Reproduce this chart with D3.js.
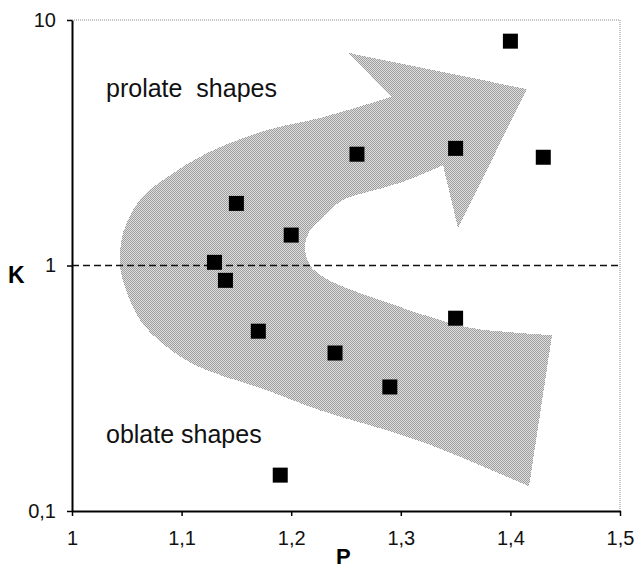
<!DOCTYPE html>
<html>
<head>
<meta charset="utf-8">
<script src="https://cdn.jsdelivr.net/npm/d3@7"></script>
<style>
  body { margin: 0; background: #fff; }
  svg { display: block; font-family: "Liberation Sans", Arial, sans-serif; }
</style>
</head>
<body>
<div id="chart"></div>
<script>
// measured points (P, K)
const pValues = [1.4, 1.43, 1.35, 1.26, 1.15, 1.2, 1.13, 1.14, 1.17, 1.24, 1.35, 1.29, 1.19];
const kValues = [8.2, 2.76, 3.0, 2.84, 1.79, 1.33, 1.03, 0.87, 0.54, 0.44, 0.61, 0.32, 0.14];

const xTicks = [1, 1.1, 1.2, 1.3, 1.4, 1.5];
const yTicks = [0.1, 1, 10];

// outline of the grey arrow, in (P, K) units
const arrowOuter = [[1.417, 0.126], [1.3157, 0.194], [1.2263, 0.257], [1.1779, 0.31],
  [1.1168, 0.385], [1.0867, 0.465], [1.062, 0.60], [1.0465, 0.87], [1.0438, 1.02],
  [1.0465, 1.355], [1.062, 1.85], [1.0867, 2.29], [1.1232, 2.87], [1.1779, 3.56],
  [1.2263, 3.99], [1.2911, 4.86]];
const arrowHead = [[1.2911, 4.86], [1.2527, 7.34], [1.4151, 5.23], [1.3522, 1.42], [1.3385, 2.56]];
const arrowInner = [[1.3385, 2.56], [1.2993, 2.17], [1.2692, 1.99], [1.2473, 1.85],
  [1.2354, 1.68], [1.2263, 1.53], [1.2172, 1.39], [1.2126, 1.19], [1.2172, 1.0],
  [1.229, 0.90], [1.2445, 0.83], [1.2901, 0.70], [1.3358, 0.60], [1.3659, 0.555],
  [1.4115, 0.53], [1.438, 0.52]];

const W = 637, H = 568;
const margin = { top: 20, right: 17, bottom: 57, left: 72 };

const svg = d3.select("#chart")
  .append("svg")
  .attr("width", W)
  .attr("height", H);

const x = d3.scaleLinear().domain([1, 1.5]).range([margin.left, W - margin.right]);
const y = d3.scaleLog().domain([0.1, 10]).range([H - margin.bottom, margin.top]);

const locale = d3.formatLocale({ decimal: ",", thousands: ".", grouping: [3], currency: ["", ""] });
const fmt = locale.format("~g");

// dither texture
const pat = svg.append("defs").append("pattern")
  .attr("id", "dither")
  .attr("width", 2).attr("height", 2)
  .attr("patternUnits", "userSpaceOnUse");
pat.append("rect").attr("width", 2).attr("height", 2).attr("fill", "#dedede");
pat.append("rect").attr("width", 1).attr("height", 1).attr("fill", "#9e9e9e");
pat.append("rect").attr("x", 1).attr("y", 1).attr("width", 1).attr("height", 1).attr("fill", "#9e9e9e");

// frame top / right (dotted grey)
svg.append("path")
  .attr("d", `M${x(1)},${y(10)}H${x(1.5)}V${y(0.1)}`)
  .attr("fill", "none")
  .attr("stroke", "#8a8a8a")
  .attr("stroke-width", 1)
  .attr("stroke-dasharray", "1,1");

// arrow
const smooth = d3.line().x(d => x(d[0])).y(d => y(d[1])).curve(d3.curveCatmullRom.alpha(0.5));
const straight = d3.line().x(d => x(d[0])).y(d => y(d[1]));
const arrowPath = smooth(arrowOuter)
  + straight(arrowHead).replace(/^M/, "L")
  + smooth(arrowInner).replace(/^M/, "L") + "Z";

svg.append("path")
  .attr("d", arrowPath)
  .attr("fill", "url(#dither)")
  .attr("shape-rendering", "crispEdges");

// K = 1 reference line
svg.append("line")
  .attr("x1", x(1)).attr("x2", x(1.5))
  .attr("y1", y(1)).attr("y2", y(1))
  .attr("stroke", "#111")
  .attr("stroke-width", 1.5)
  .attr("stroke-dasharray", "7,4");

// axes
const xAxis = svg.append("g")
  .attr("transform", `translate(0,${y(0.1)})`)
  .call(d3.axisBottom(x).tickValues(xTicks).tickFormat(fmt).tickSize(5).tickSizeOuter(0).tickPadding(15));

const yAxis = svg.append("g")
  .attr("transform", `translate(${x(1)},0)`)
  .call(d3.axisLeft(y).tickValues(yTicks).tickFormat(fmt).tickSize(5).tickSizeOuter(0).tickPadding(11));

[xAxis, yAxis].forEach(g => {
  g.select(".domain").attr("stroke", "#000").attr("stroke-width", 2);
  g.selectAll(".tick line").attr("stroke", "#000").attr("stroke-width", 1.5);
  g.selectAll("text")
    .attr("fill", "#111")
    .style("font-family", "'Liberation Sans', Arial, sans-serif")
    .style("font-size", "20px");
});

// points
const pts = pValues.map((p, i) => ({ p, k: kValues[i] }));
const s = 15;
svg.append("g")
  .selectAll("rect")
  .data(pts)
  .join("rect")
  .attr("x", d => x(d.p) - s / 2)
  .attr("y", d => y(d.k) - s / 2)
  .attr("width", s)
  .attr("height", s)
  .attr("fill", "#000");

// annotations
svg.append("text")
  .attr("x", 106).attr("y", 97)
  .style("font-size", "25px")
  .style("white-space", "pre")
  .attr("fill", "#111")
  .text("prolate  shapes");

svg.append("text")
  .attr("x", 106).attr("y", 443)
  .style("font-size", "25px")
  .attr("fill", "#111")
  .text("oblate shapes");

// axis labels
svg.append("text")
  .attr("x", 8).attr("y", 283)
  .style("font-size", "23px")
  .style("font-weight", "bold")
  .text("K");

svg.append("text")
  .attr("x", 336).attr("y", 564)
  .style("font-size", "22px")
  .style("font-weight", "bold")
  .text("P");
</script>
</body>
</html>
